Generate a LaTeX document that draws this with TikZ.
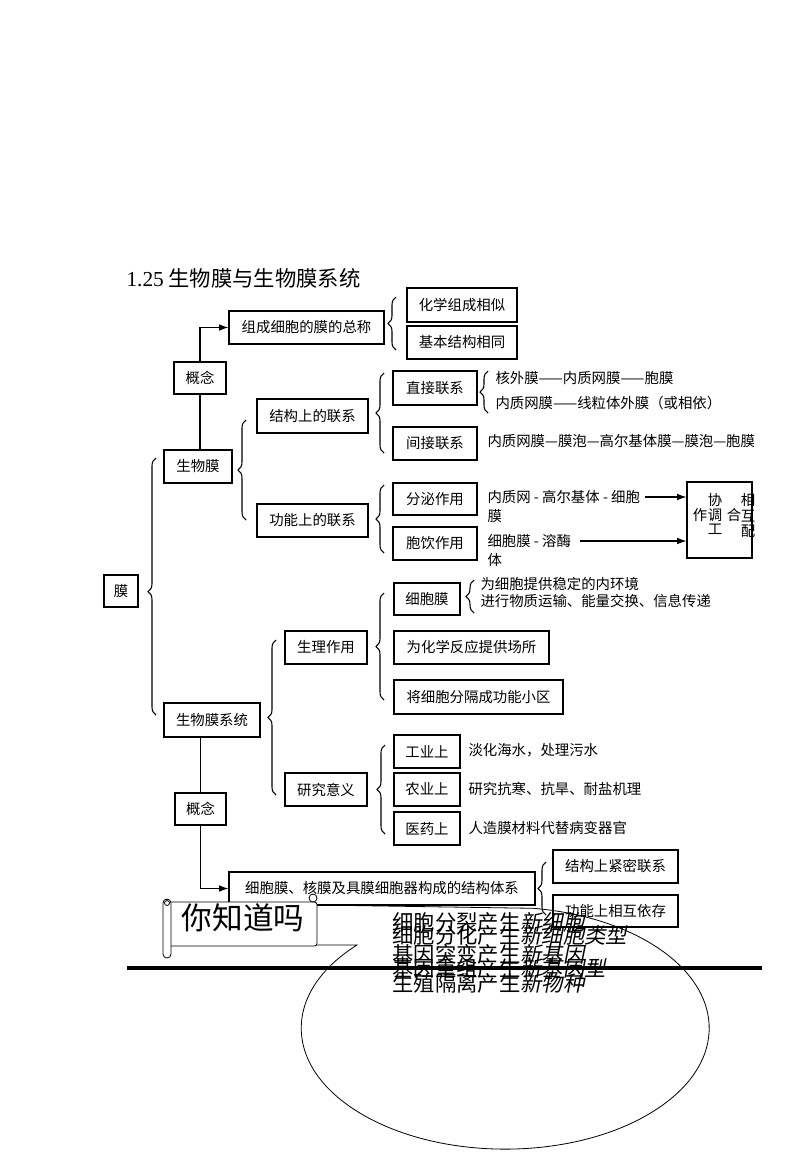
\documentclass[tikz,border=0pt]{standalone}
\usepackage{fontspec}
\setmainfont{Noto Sans CJK SC}
\newfontfamily\tnr{Liberation Serif}
\newfontfamily\cjkslant[FakeSlant=0.2]{Noto Sans CJK SC}
\usetikzlibrary{decorations.pathreplacing,arrows.meta}

\begin{document}
\begin{tikzpicture}[x=0.75pt,y=-0.75pt,line width=0.8pt,
  sz/.style 2 args={minimum width=#1*0.75pt,minimum height=#2*0.75pt},
  box/.style={draw,fill=white,inner sep=0pt,font=\fontsize{10.8}{13}\selectfont},
  txt/.style={anchor=west,inner sep=0pt,font=\fontsize{10.8}{13}\selectfont},
  big/.style={anchor=west,inner sep=0pt,font=\fontsize{16}{16}\selectfont},
  lbrace/.style={decorate,decoration={brace,amplitude=6pt}},
  arr/.style={-{Latex[length=7pt,width=5pt]}}]
 \useasboundingbox (0,0) rectangle (800,1160);
 \node[big] (title) at (126,278) {{\tnr 1.25} 生物膜与生物膜系统};
 % biomembrane
 \node[box,sz={155}{33}] (zongcheng) at (306.5,327.5) {组成细胞的膜的总称};
 \node[box,sz={110}{34}] (huaxue) at (462,305) {化学组成相似};
 \node[box,sz={110}{33}] (jiben) at (462,342.5) {基本结构相同};
 \node[box,sz={52}{32}] (gainian1) at (200,378) {概念};
 \node[box,sz={68}{33}] (swm) at (198,466.5) {生物膜};
 \node[box,sz={111}{34}] (jiegou) at (312.5,416) {结构上的联系};
 \node[box,sz={111}{33}] (gongneng) at (312.5,520.5) {功能上的联系};
 \node[box,sz={84}{34}] (zhijie) at (435,388) {直接联系};
 \node[box,sz={84}{33}] (jianjie) at (435,443.5) {间接联系};
 \node[box,sz={84}{32}] (fenmi) at (435,499) {分泌作用};
 \node[box,sz={84}{33}] (baoyin) at (435,543.5) {胞饮作用};
 \node[box,sz={65}{76}] (xietiao) at (719.5,520) {};
 \node[txt] (hewai) at (495,378) {核外膜——内质网膜——胞膜};
 \node[txt] (xianli) at (495,403) {内质网膜——线粒体外膜（或相依）};
 \node[txt] (jianjiet) at (487,441) {内质网膜—膜泡—高尔基体膜—膜泡—胞膜};
 \node[txt] (fenmia) at (487,497) {内质网 - 高尔基体 - 细胞};
 \node[txt] (fenmib) at (487,516) {膜};
 \node[txt] (baoyina) at (487,541) {细胞膜 - 溶酶};
 \node[txt] (baoyinb) at (487,560) {体};
 \foreach \c/\px/\py [count=\i] in {协/715/500,作/700/515,调/715/515,合/734/515,
   工/715/529,相/748/500,互/748/516,配/748/531}
   \node[inner sep=0pt,font=\fontsize{10.8}{13}\selectfont] (xt\i) at (\px,\py) {\c};
 \draw[arr] ([xshift=3pt]fenmia.east) -- (xietiao.west |- fenmia.east);
 \draw[arr] ([xshift=6pt]baoyina.east) -- (xietiao.west |- baoyina.east);
 % membrane
 \node[box,sz={34}{32}] (mo) at (121,591) {膜};
 % membrane system
 \node[box,sz={96}{34}] (swmxt) at (212,720) {生物膜系统};
 \node[box,sz={82}{33}] (shengli) at (326,647.5) {生理作用};
 \node[box,sz={82}{33}] (yanjiu) at (326,789.5) {研究意义};
 \node[box,sz={66}{32}] (xbm) at (427,599) {细胞膜};
 \node[box,sz={155}{33}] (changsuo) at (471.5,647.5) {为化学反应提供场所};
 \node[box,sz={169}{34}] (fenge) at (478.5,697) {将细胞分隔成功能小区};
 \node[txt] (wending) at (480,584) {为细胞提供稳定的内环境};
 \node[txt] (yunshu) at (480,601) {进行物质运输、能量交换、信息传递};
 \node[box,sz={66}{33}] (gongye) at (427,751.5) {工业上};
 \node[box,sz={66}{33}] (nongye) at (427,789.5) {农业上};
 \node[box,sz={66}{33}] (yiyao) at (427,828.5) {医药上};
 \node[txt] (gongyet) at (468,750) {淡化海水，处理污水};
 \node[txt] (nongyet) at (468,789) {研究抗寒、抗旱、耐盐机理};
 \node[txt] (yiyaot) at (468,828) {人造膜材料代替病变器官};
 \node[box,sz={51}{32}] (gainian2) at (200.5,809) {概念};
 \node[box,sz={306}{33}] (tixi) at (382,888.5) {细胞膜、核膜及具膜细胞器构成的结构体系};
 \node[box,sz={125}{33}] (jinmi) at (615.5,866.5) {结构上紧密联系};
 \node[box,sz={125}{32}] (yicun) at (615.5,911) {功能上相互依存};
 % lines
 \draw[arr] (gainian1.north) |- (zongcheng.west);
 \draw (gainian1.south) -- (gainian1.south |- swm.north);
 \draw (gainian2.north |- swmxt.south) -- (gainian2.north);
 \draw[arr] (gainian2.south) |- (tixi.west);
 % braces
 \draw[lbrace] (396,350) -- (396,297);
 \draw[lbrace] (246,520) -- (246,420);
 \draw[lbrace] (384,453) -- (384,373);
 \draw[lbrace] (488,413) -- (488,371);
 \draw[lbrace] (384,553) -- (384,485);
 \draw[lbrace,decoration={aspect=0.48}] (156,715) -- (156,458);
 \draw[lbrace] (276,795) -- (276,640);
 \draw[lbrace] (384,700) -- (384,593);
 \draw[lbrace] (474,613) -- (474,580);
 \draw[lbrace] (385,834) -- (385,745);
 \draw[lbrace] (546,915) -- (546,862);
 % callout
 \draw[line width=0.6pt] (317,945) -- (357,945)
   arc[start angle=223.4,end angle=-82.1,x radius=204,y radius=121] -- (317,905);
 \draw[fill=white,line width=0.6pt,rounded corners=2pt] (168,902) -- (317,902) -- (317,946) -- (168,946) -- cycle;
 \draw[fill=white,line width=0.6pt,rounded corners=3pt] (163,899) rectangle (171,958);
 \draw[line width=0.6pt] (167,903) circle (2.5);
 \draw[fill=white,line width=0.6pt] (313,898) circle (4);
 \node[inner sep=0pt,font=\fontsize{23}{23}\selectfont] (zhidao) at (243,918) {你知道吗};
 \draw[line width=3pt] (127,968) -- (762,968);
 \node[big] (fenlie) at (392,922) {细胞分裂产生{\cjkslant 新细胞}};
 \node[big] (fenhua) at (392,935) {细胞分化产生{\cjkslant 新细胞类型}};
 \node[big] (tubian) at (392,954) {基因突变产生{\cjkslant 新基因}};
 \node[big] (chongzu) at (392,968) {基因重组产生{\cjkslant 新基因型}};
 \node[big] (geli) at (392,983) {生殖隔离产生{\cjkslant 新物种}};
\end{tikzpicture}
\end{document}
